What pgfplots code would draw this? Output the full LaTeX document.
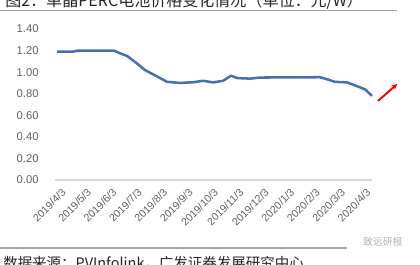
\documentclass[border=0pt]{standalone}
\usepackage{fontspec}
\setmainfont{Liberation Sans}
\newfontfamily\cjk{Noto Sans CJK SC}
\usepackage{pgfplots}
\pgfplotsset{compat=1.18}
\usetikzlibrary{arrows.meta}
\definecolor{linecol}{RGB}{72,112,176}
\definecolor{ticktxt}{RGB}{96,96,96}
\begin{document}
\begin{tikzpicture}
\path[use as bounding box] (0,0) rectangle (10.5cm,6.6cm);
\clip (0,0) rectangle (10.5cm,6.6cm);
\begin{scope}[x=0.025cm,y=0.025cm]
% title (cropped at top as in the reference)
\node[anchor=base west,inner sep=0pt,font=\cjk\fontsize{11.4pt}{13pt}\selectfont,text=black!85] at (5,258) {图2：单晶PERC电池价格变化情况（单位：元/W）};
\draw[gray!70,line width=0.8pt] (0,253.5) -- (397,253.5);
% footer
\draw[gray!70,line width=0.8pt] (0,16) -- (347,16);
\node[anchor=base west,inner sep=0pt,font=\cjk\fontsize{10.3pt}{12pt}\selectfont,text=black!85] at (3,-4) {数据来源：PVInfolink，广发证券发展研究中心};
\node[anchor=base west,inner sep=0pt,font=\cjk\fontsize{7pt}{8pt}\selectfont,text=gray!60] at (363,19) {致远研报};
\end{scope}
\begin{axis}[
  at={(1.375cm,2.1cm)}, anchor=south west,
  width=7.925cm, height=3.775cm, scale only axis,
  xmin=-0.08, xmax=12.4, ymin=0, ymax=1.4,
  clip=false,
  axis lines=left,
  axis line style={-},
  x axis line style={draw=gray!30,line width=0.8pt},
  y axis line style={draw=none},
  tick style={draw=none},
  xtick={0,1,...,12},
  xticklabels={2019/4/3,2019/5/3,2019/6/3,2019/7/3,2019/8/3,2019/9/3,2019/10/3,2019/11/3,2019/12/3,2020/1/3,2020/2/3,2020/3/3,2020/4/3},
  xticklabel style={rotate=45,anchor=north east,font=\fontsize{7.5pt}{9pt}\selectfont,text=ticktxt,yshift=-1pt,xshift=3pt},
  ytick={0,0.2,...,1.4},
  yticklabel style={font=\fontsize{8pt}{9pt}\selectfont,text=ticktxt,xshift=-6pt,
    /pgf/number format/.cd,fixed,fixed zerofill,precision=2},
  /pgf/number format/assume math mode=true,
]
\addplot[linecol,line width=1.8pt,line join=round] coordinates {
(0,1.19) (0.63,1.19) (0.83,1.20) (2.24,1.20) (2.48,1.175) (2.76,1.15)
(3.15,1.08) (3.46,1.02) (3.94,0.96) (4.33,0.91) (4.84,0.90) (5.35,0.906)
(5.75,0.92) (6.14,0.905) (6.54,0.92) (6.85,0.967) (7.09,0.945) (7.60,0.94)
(7.99,0.95) (10.35,0.953) (10.63,0.934) (10.94,0.91) (11.42,0.905)
(11.81,0.87) (12.13,0.84) (12.40,0.78)
};
\draw[red,line width=1.4pt,-{Stealth[length=4pt,width=4pt]}] (axis cs:12.64,0.733) -- (axis cs:13.39,0.89);
\end{axis}
\end{tikzpicture}
\end{document}
